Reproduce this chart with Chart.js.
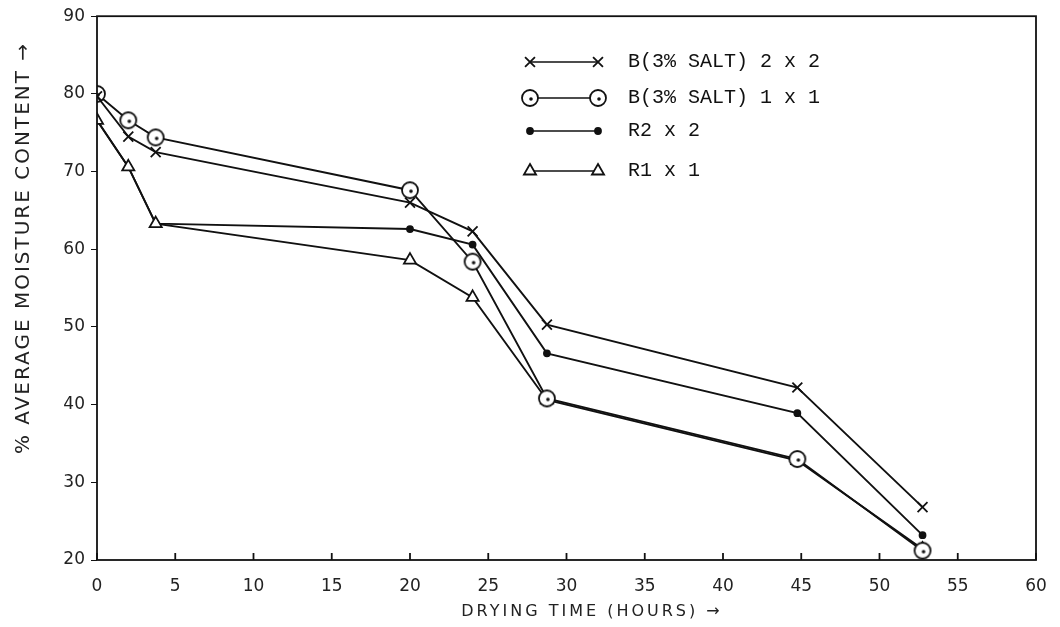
<!DOCTYPE html>
<html>
<head>
<meta charset="utf-8">
<script src="https://cdn.jsdelivr.net/npm/chart.js@4.4.1/dist/chart.umd.min.js"></script>
<style>
body { margin: 0; background: #fff; }
#wrap { width: 1060px; height: 627px; }
</style>
</head>
<body>
<div id="wrap"><canvas id="chart"></canvas></div>
<script>
// drying time in hours
const hours = [0, 2, 3.75, 20, 24, 28.75, 44.75, 52.75]
// % average moisture content
const salt2x2 = [79.7, 74.5, 72.5, 66, 62.3, 50.3, 42.2, 26.8]
const salt1x1 = [80, 76.6, 74.4, 67.6, 58.4, 40.8, 33, 21.2]
const r2x2 = [76.6, 70.6, 63.3, 62.6, 60.6, 46.6, 38.9, 23.2]
const r1x1 = [76.6, 70.6, 63.3, 58.6, 53.8, 40.6, 32.8, 21.4]
const seriesNames = ['B(3% SALT) 2 x 2', 'B(3% SALT) 1 x 1', 'R2 x 2', 'R1 x 1']
const xTicks = [0, 5, 10, 15, 20, 25, 30, 35, 40, 45, 50, 55, 60]
const yTicks = [20, 30, 40, 50, 60, 70, 80, 90]

// circle with a dot in it
function dotCircle(r) {
    const c = document.createElement('canvas')
    c.width = c.height = r * 2 + 4
    const g = c.getContext('2d')
    g.strokeStyle = '#111'
    g.lineWidth = 1.8
    g.fillStyle = '#fff'
    g.beginPath(); g.arc(r + 2, r + 2, r, 0, Math.PI * 2); g.fill(); g.stroke()
    g.fillStyle = '#111'
    g.beginPath(); g.arc(r + 3, r + 3, 1.8, 0, Math.PI * 2); g.fill()
    return c
}
const circleImg = dotCircle(8)

function pts(vals) {
    return vals.map((v, i) => ({ x: hours[i], y: v }))
}

const common = { borderColor: '#111', borderWidth: 1.9, pointBorderColor: '#111', pointBorderWidth: 1.8, tension: 0 }
// dots sit behind the triangles where the two R lines share a path
const datasets = [
    { ...common, label: seriesNames[0], data: pts(salt2x2), pointStyle: 'crossRot', pointRadius: 7 },
    { ...common, label: seriesNames[1], data: pts(salt1x1), pointStyle: circleImg },
    { ...common, label: seriesNames[2], data: pts(r2x2), pointStyle: 'circle', pointRadius: 3, pointBackgroundColor: '#111', order: 1 },
    { ...common, label: seriesNames[3], data: pts(r1x1), pointStyle: 'triangle', pointRadius: 7, pointBackgroundColor: '#fff' }
]

const legendRows = [62, 98, 131, 171]

const extras = {
    id: 'extras',
    afterDraw(chart) {
        const ctx = chart.ctx
        const a = chart.chartArea
        const xs = chart.scales.x
        ctx.save()
        ctx.strokeStyle = '#111'
        ctx.lineWidth = 1.8
        ctx.strokeRect(a.left, a.top, a.right - a.left, a.bottom - a.top)
        // inward ticks on the time axis
        xTicks.forEach(t => {
            const px = xs.getPixelForValue(t)
            ctx.beginPath(); ctx.moveTo(px, a.bottom); ctx.lineTo(px, a.bottom - 7); ctx.stroke()
        })
        // legend
        chart.data.datasets.forEach((ds, i) => {
            const y = legendRows[i]
            const x0 = 530, x1 = 598
            const meta = chart.getDatasetMeta(i)
            ctx.strokeStyle = '#111'
            ctx.lineWidth = 1.5
            ctx.beginPath(); ctx.moveTo(x0, y); ctx.lineTo(x1, y); ctx.stroke()
            const opts = meta.data[0].options
            ;[x0, x1].forEach(px => {
                ctx.fillStyle = opts.backgroundColor
                ctx.strokeStyle = '#111'
                ctx.lineWidth = opts.borderWidth
                Chart.helpers.drawPoint(ctx, {
                    pointStyle: opts.pointStyle, radius: opts.radius, rotation: 0,
                    borderWidth: opts.borderWidth
                }, px, y)
            })
            ctx.fillStyle = '#111'
            ctx.font = '20px "Liberation Mono"'
            ctx.textBaseline = 'middle'
            ctx.textAlign = 'left'
            ctx.fillText(ds.label, 628, y)
        })
        // axis titles
        ctx.fillStyle = '#222'
        ctx.font = '16px "DejaVu Sans"'
        ctx.letterSpacing = '3px'
        ctx.textAlign = 'center'
        ctx.textBaseline = 'middle'
        ctx.fillText('DRYING TIME (HOURS) \u2192', 592, 612)
        ctx.translate(24, 248)
        ctx.rotate(-Math.PI / 2)
        ctx.font = '20px "DejaVu Sans"'
        ctx.letterSpacing = '2px'
        ctx.fillText('% AVERAGE MOISTURE CONTENT \u2192', 0, 0)
        ctx.restore()
    }
}

new Chart(document.getElementById('chart'), {
    type: 'line',
    data: { datasets },
    plugins: [extras],
    options: {
        responsive: true,
        maintainAspectRatio: false,
        animation: false,
        layout: { padding: { top: 14, right: 24, left: 0, bottom: 0 } },
        plugins: { legend: { display: false }, tooltip: { enabled: false } },
        scales: {
            x: {
                type: 'linear', min: 0, max: 60,
                afterBuildTicks: s => { s.ticks = xTicks.map(v => ({ value: v })) },
                afterFit: s => { s.height = 67 },
                grid: { display: false },
                border: { display: false },
                ticks: { color: '#222', font: { family: 'DejaVu Sans', size: 17 }, padding: 8, maxRotation: 0 }
            },
            y: {
                min: 20, max: 90,
                afterBuildTicks: s => { s.ticks = yTicks.map(v => ({ value: v })) },
                afterFit: s => { s.width = 97 },
                grid: { drawOnChartArea: false, tickLength: 6, color: '#111' },
                border: { display: false },
                ticks: { color: '#222', font: { family: 'DejaVu Sans', size: 17 }, padding: 6 }
            }
        }
    }
})
</script>
</body>
</html>
